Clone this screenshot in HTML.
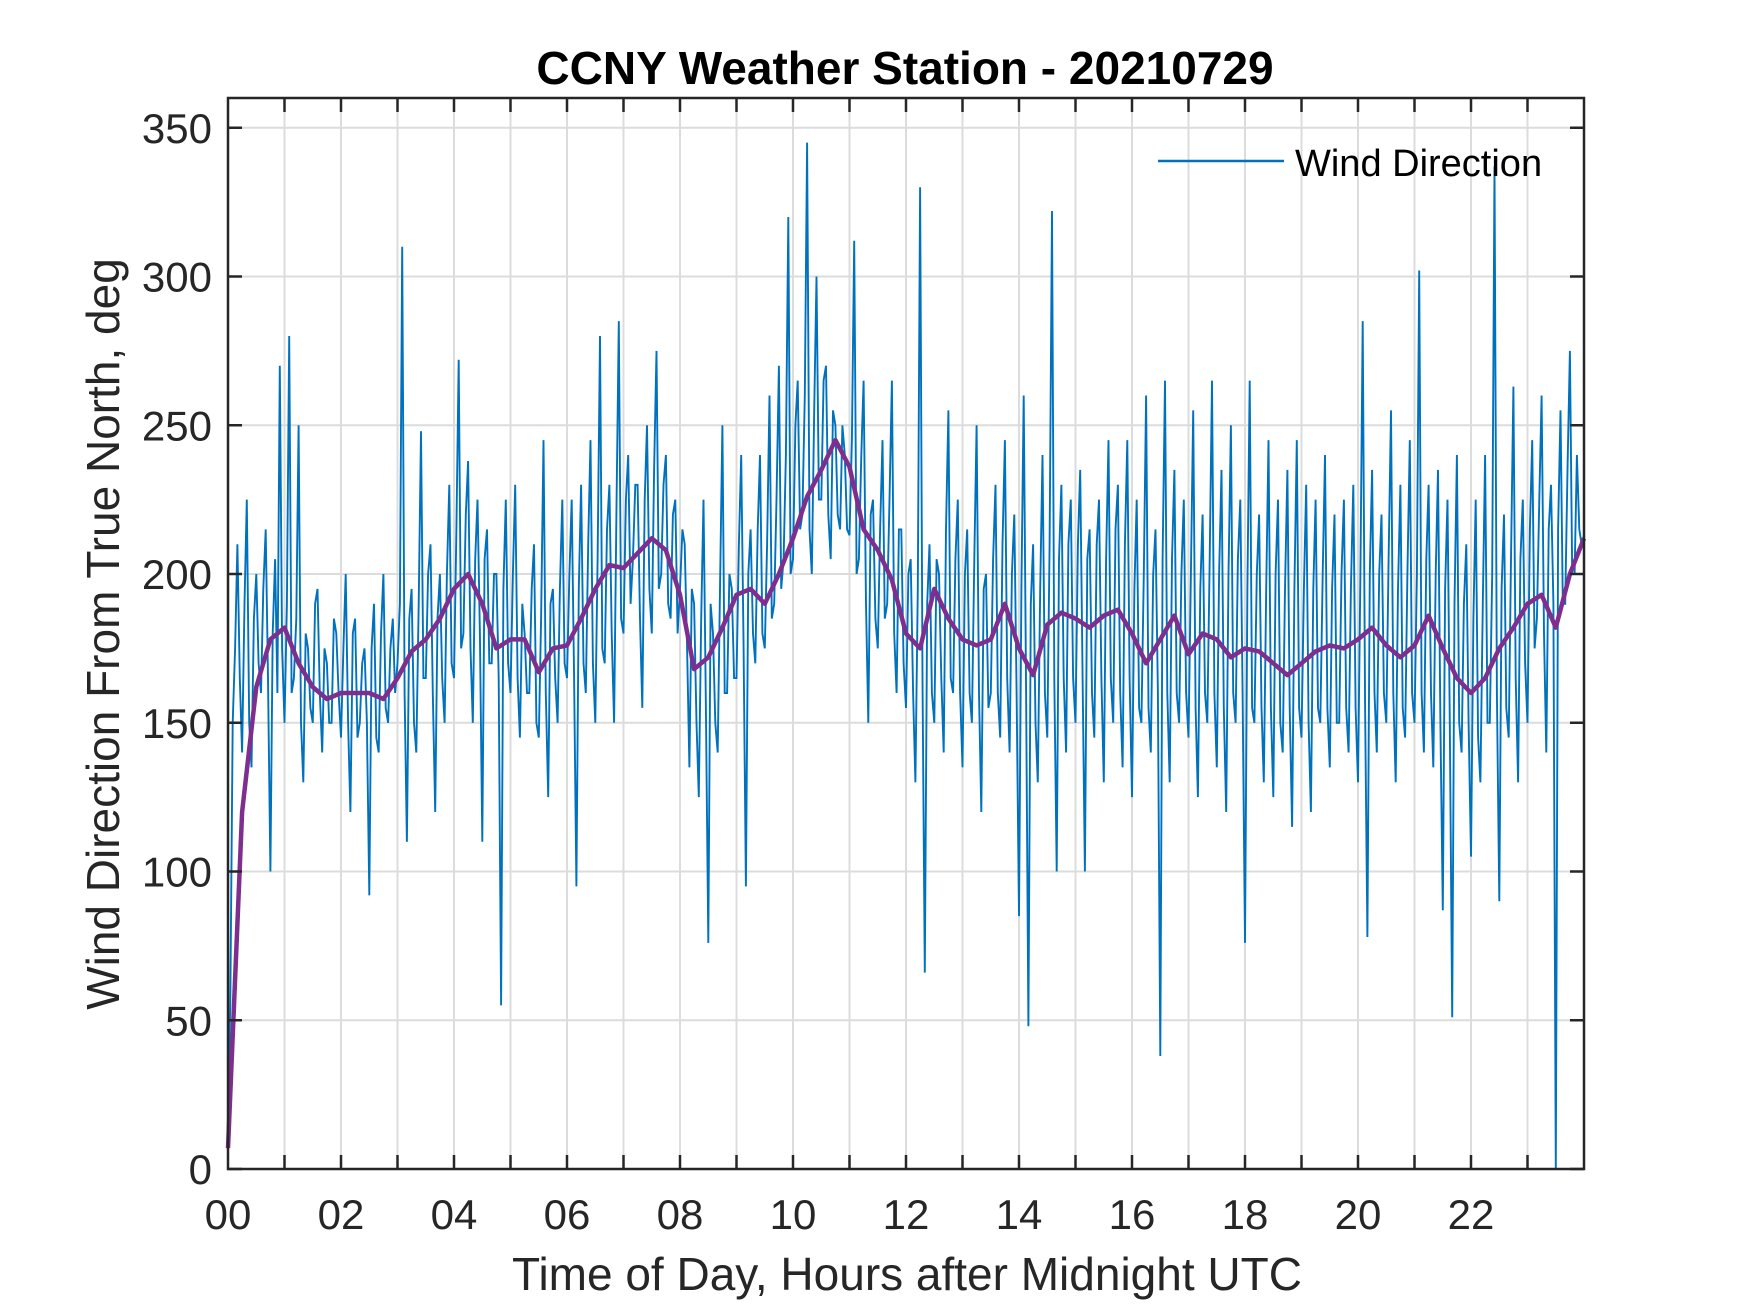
<!DOCTYPE html>
<html><head><meta charset="utf-8"><style>
html,body{margin:0;padding:0;background:#fff;}
svg{display:block;font-family:"Liberation Sans",Arial,sans-serif;}
</style></head><body>
<svg id="chart" width="1750" height="1313" viewBox="0 0 1750 1313" xmlns="http://www.w3.org/2000/svg">
<rect width="1750" height="1313" fill="#fff"/>
<g id="grid"></g>
<g id="series"></g>
<g id="axes"></g>
<text x="905" y="84" text-anchor="middle" font-size="46" font-weight="bold" fill="#000">CCNY Weather Station - 20210729</text>
<text x="907" y="1290" text-anchor="middle" font-size="46" fill="#262626">Time of Day, Hours after Midnight UTC</text>
<text transform="translate(119,634) rotate(-90)" text-anchor="middle" font-size="46" fill="#262626">Wind Direction From True North, deg</text>
<g>
<line x1="1158" y1="161" x2="1284" y2="161" stroke="#0072BD" stroke-width="2.5"/>
<text x="1295" y="176" font-size="38" fill="#000">Wind Direction</text>
</g>
</svg>
<script>
// Data
const xTickLabels = ["00","02","04","06","08","10","12","14","16","18","20","22"];
const yTickValues = [0,50,100,150,200,250,300,350];
// raw wind direction, every 2.5 minutes (24 per hour), 0..24h
const windRaw = [
7,60,150,175,210,165,140,190,225,150,135,185,200,170,160,195,215,165,100,180,205,160,270,175,
150,190,280,160,165,185,250,150,130,180,175,155,150,190,195,160,140,175,170,150,150,185,180,160,
145,175,200,150,120,180,185,145,150,170,175,150,92,175,190,145,140,180,200,155,150,175,185,160,
170,190,310,160,110,185,195,150,140,190,248,165,165,200,210,160,120,185,200,165,150,200,230,170,
165,215,272,175,180,220,238,175,150,205,225,180,110,205,215,170,170,200,200,165,55,195,225,170,
160,200,230,165,145,190,180,160,160,195,210,150,145,185,245,160,125,190,195,165,150,195,225,170,
165,200,225,165,95,195,230,170,160,210,245,170,150,205,280,175,170,215,230,180,150,220,285,185,
180,225,240,190,205,230,230,185,155,225,250,195,180,235,275,195,200,230,240,190,185,220,225,180,
195,215,210,175,135,195,190,150,125,185,225,155,76,190,180,150,140,195,250,160,160,200,195,165,
165,210,240,175,95,200,215,180,170,215,240,180,175,210,260,185,190,225,270,195,205,240,320,200,
205,250,265,215,220,260,345,215,200,255,300,225,225,265,270,220,205,255,250,220,215,250,240,215,
213,245,312,200,205,240,265,190,150,220,225,185,175,215,245,185,190,225,265,180,160,215,215,170,
155,200,205,160,130,195,330,165,66,190,210,160,150,205,200,165,140,215,255,165,160,205,225,160,
135,200,215,160,150,205,250,160,120,195,200,155,160,205,230,160,145,210,245,165,140,200,220,160,
85,195,260,160,48,190,210,150,130,195,240,160,145,210,322,165,100,205,230,165,140,210,225,165,
150,210,235,165,100,205,215,160,145,210,225,165,130,205,245,165,150,215,230,160,135,210,245,165,
125,195,225,155,150,200,260,155,140,200,215,160,38,205,265,160,130,205,235,160,150,200,225,160,
145,200,255,155,125,195,220,160,150,205,265,160,135,200,235,155,120,200,250,160,150,205,225,160,
76,195,265,155,150,200,220,155,130,195,245,155,125,200,225,150,140,195,235,155,115,195,245,155,
145,195,230,150,120,195,225,155,150,200,240,155,135,195,220,150,150,200,225,155,140,195,230,155,
130,200,285,155,78,200,235,160,140,200,220,160,150,205,255,160,130,195,230,155,145,200,245,160,
150,200,302,160,140,205,230,160,135,200,235,150,87,195,225,150,51,190,240,150,140,190,210,150,
105,185,225,145,130,190,240,150,150,200,337,160,90,195,220,155,145,205,263,165,130,205,225,170,
150,215,245,175,185,225,260,180,140,215,230,190,0,215,255,190,190,235,275,200,200,240,215,210,
213];
// smoothed wind direction, every 15 minutes
const windSmooth = [
7,120,162,178,182,170,162,158,160,160,160,158,165,174,178,185,
195,200,190,175,178,178,167,175,176,185,195,203,202,207,212,208,
193,168,172,182,193,195,190,200,212,226,235,245,236,215,208,198,
180,175,195,185,178,176,178,190,175,166,183,187,185,182,186,188,
180,170,178,186,173,180,178,172,175,174,170,166,170,174,176,175,
178,182,176,172,176,186,175,165,160,165,175,182,190,193,182,200,212];

const L=228,R=1584,T=98,B=1169,XMAX=24,YMAX=360;
const xs=h=>L+(h/XMAX)*(R-L);
const ys=v=>B-(v/YMAX)*(B-T);
const NS="http://www.w3.org/2000/svg";
function mk(tag,attrs,parent){const e=document.createElementNS(NS,tag);for(const k in attrs)e.setAttribute(k,attrs[k]);parent.appendChild(e);return e;}
const grid=document.getElementById('grid'),axes=document.getElementById('axes'),series=document.getElementById('series');

for(let h=1;h<XMAX;h++){
  const g=mk('line',{x1:xs(h),x2:xs(h),y1:T,y2:B,stroke:'#dcdcdc','stroke-width':2},grid);
  
  
}
yTickValues.forEach(v=>{
  if(v===0)return;
  const g=mk('line',{x1:L,x2:R,y1:ys(v),y2:ys(v),stroke:'#dcdcdc','stroke-width':2},grid);
  
  
});

function pathFrom(arr,step){return arr.map((v,i)=>(i?'L':'M')+xs(i*step).toFixed(1)+' '+ys(v).toFixed(1)).join(' ');}
const raw=mk('path',{d:pathFrom(windRaw,1/24),fill:'none',stroke:'#0072BD','stroke-width':1.9,'stroke-linejoin':'miter'},series);


const sm=mk('path',{d:pathFrom(windSmooth,0.25),fill:'none',stroke:'#7E2F8E','stroke-width':4.5,'stroke-linejoin':'round'},series);



const box=mk('rect',{x:L,y:T,width:R-L,height:B-T,fill:'none',stroke:'#262626','stroke-width':2.5},axes);


for(let h=1;h<XMAX;h++){
  const t1=mk('line',{x1:xs(h),x2:xs(h),y1:B,y2:B-14,stroke:'#262626','stroke-width':2.5},axes);
  
  
  const t2=mk('line',{x1:xs(h),x2:xs(h),y1:T,y2:T+14,stroke:'#262626','stroke-width':2.5},axes);
  
  
}
xTickLabels.forEach((s,i)=>{
  const t=mk('text',{x:xs(i*2),y:1229,'text-anchor':'middle','font-size':42,fill:'#262626'},axes);
  t.textContent=s;
  
  
});
yTickValues.forEach(v=>{
  const a=mk('line',{x1:L,x2:L+14,y1:ys(v),y2:ys(v),stroke:'#262626','stroke-width':2.5},axes);
  
  
  const b=mk('line',{x1:R,x2:R-14,y1:ys(v),y2:ys(v),stroke:'#262626','stroke-width':2.5},axes);
  
  
  const t=mk('text',{x:212,y:ys(v)+15,'text-anchor':'end','font-size':42,fill:'#262626'},axes);
  t.textContent=String(v);
  
  
});
</script>
</body></html>
